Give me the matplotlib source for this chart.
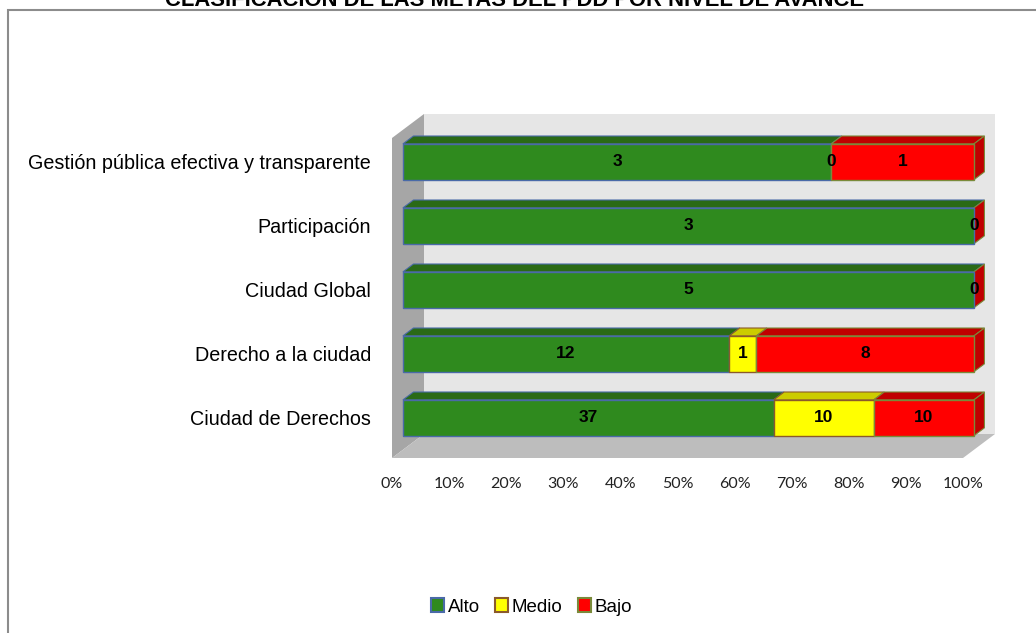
import numpy as np
import matplotlib
matplotlib.use("Agg")
from matplotlib import pyplot as plt
from matplotlib.patches import Polygon, Patch, Rectangle
from matplotlib import font_manager

# data (bottom row first)
categories = ["Ciudad de Derechos", "Derecho a la ciudad", "Ciudad Global",
              "Participación", "Gestión pública efectiva y transparente"]
alto = [37, 12, 5, 3, 3]
medio = [10, 1, np.nan, np.nan, 0]
bajo = [10, 8, 0, 0, 1]
series_names = ["Alto", "Medio", "Bajo"]
title = "CLASIFICACIÓN DE LAS METAS DEL PDD POR NIVEL DE AVANCE"

# styles
front_cols = ["#2f8a1e", "#ffff00", "#ff0000"]
top_cols = ["#2a6a16", "#cccc00", "#c00000"]
edge_cols = ["#4a6aa8", "#8b5a2b", "#7a8a3a"]

names = {f.name for f in font_manager.fontManager.ttflist}
narrow = "Liberation Sans Narrow" if "Liberation Sans Narrow" in names else "Liberation Sans"
tick_font = "Lato" if "Lato" in names else "DejaVu Sans"

fig = plt.figure(figsize=(10.36, 6.33), dpi=100)
ax = fig.add_axes([392 / 1036, 1 - 458 / 633, 571 / 1036, 320 / 633])
ax.set_xlim(0, 100)
ax.set_ylim(-0.5, 4.5)

# depth of the 3d box in data units (px / px-per-unit)
DX = 32 / 5.71
DY = 24 / 64.0
b0, b1 = 0.34, 0.67   # bar depth range inside the box
bh = 0.56

# walls
ax.add_patch(Polygon([(DX, -0.5 + DY), (100 + DX, -0.5 + DY), (100 + DX, 4.5 + DY), (DX, 4.5 + DY)],
                     closed=True, fc="#e6e6e6", ec="none", clip_on=False, zorder=0))
ax.add_patch(Polygon([(0, -0.5), (0, 4.5), (DX, 4.5 + DY), (DX, -0.5 + DY)],
                     closed=True, fc="#a6a6a6", ec="none", clip_on=False, zorder=0.5))
ax.add_patch(Polygon([(0, -0.5), (100, -0.5), (100 + DX, -0.5 + DY), (DX, -0.5 + DY)],
                     closed=True, fc="#bdbdbd", ec="none", clip_on=False, zorder=0.5))

# percentages
vals = np.array([alto, np.nan_to_num(medio), bajo], dtype=float)
totals = vals.sum(axis=0)
pct = vals / totals * 100
raw = [alto, medio, bajo]

fx0, fy0 = b0 * DX, b0 * DY
fx1, fy1 = b1 * DX, b1 * DY
ypos = np.arange(len(categories))

for i, y in enumerate(ypos):
    left = 0.0
    for s in range(3):
        w = pct[s, i]
        yf = y + fy0
        if w > 0:
            ax.barh(yf, w, left=left + fx0, height=bh, color=front_cols[s],
                    edgecolor=edge_cols[s], linewidth=1, zorder=3, clip_on=False)
            top = [(left + fx0, yf + bh / 2), (left + w + fx0, yf + bh / 2),
                   (left + w + fx1, y + fy1 + bh / 2), (left + fx1, y + fy1 + bh / 2)]
            ax.add_patch(Polygon(top, closed=True, fc=top_cols[s], ec=edge_cols[s],
                                 lw=0.8, zorder=2, clip_on=False))
        v = raw[s][i]
        if not np.isnan(v):
            ax.text(left + w / 2 + fx0, yf, f"{int(v)}", ha="center", va="center",
                    fontsize=12.5, fontweight="bold", family=[narrow, "DejaVu Sans"],
                    color="black", zorder=5)
        left += w
    # right side face
    side = [(100 + fx0, y + fy0 - bh / 2), (100 + fx0, y + fy0 + bh / 2),
            (100 + fx1, y + fy1 + bh / 2), (100 + fx1, y + fy1 - bh / 2)]
    ax.add_patch(Polygon(side, closed=True, fc="#c00000", ec=edge_cols[2],
                         lw=0.8, zorder=2, clip_on=False))

ax.set_yticks(ypos + fy0)
ax.set_yticklabels(categories, family=[narrow, "DejaVu Sans"], fontsize=14.2)
ax.set_xticks(np.arange(0, 101, 10))
ax.set_xticklabels([f"{t}%" for t in range(0, 101, 10)], family=[tick_font], fontsize=11.5,
                   color="#222222")
ax.tick_params(axis="y", length=0, pad=15)
ax.tick_params(axis="x", length=0, pad=14)
for sp in ax.spines.values():
    sp.set_visible(False)
ax.patch.set_alpha(0)

handles = [Patch(fc=front_cols[k], ec=edge_cols[k], lw=1.5) for k in range(3)]
fig.legend(handles, series_names, loc="center", bbox_to_anchor=(0.513, 1 - 607 / 633),
           ncol=3, frameon=False, handlelength=0.7, handleheight=0.7, handletextpad=0.2,
           columnspacing=0.8, prop={"family": [narrow, "DejaVu Sans"], "size": 13.5})

# title sits partly above the top edge, as in the source image
fig.text(0.497, 1 - 6 / 633, title, ha="center", va="baseline", fontsize=15.8,
         fontweight="bold", family=["Liberation Sans", "DejaVu Sans"])

# outer chart frame
fig.patches.append(Rectangle((8 / 1036, -0.1), 1.2, 1.1 - 10 / 633, transform=fig.transFigure,
                             fill=False, ec="#8c8c8c", lw=1.5))

fig.savefig("out.png", dpi=100)
